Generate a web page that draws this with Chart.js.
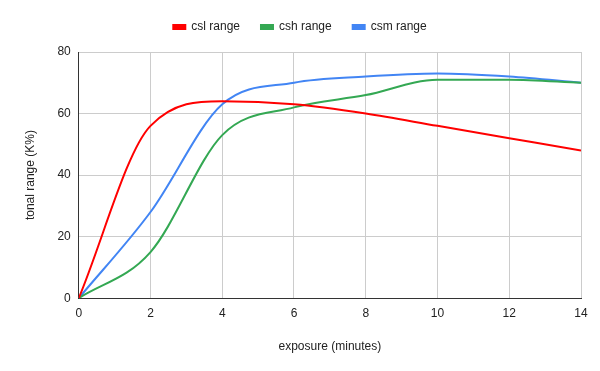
<!DOCTYPE html>
<html>
<head>
<meta charset="utf-8">
<script src="https://cdn.jsdelivr.net/npm/chart.js@4"></script>
<style>
  html, body { margin: 0; padding: 0; background: #fff; }
  #wrap { width: 600px; height: 371px; }
</style>
</head>
<body>
<div id="wrap"><canvas id="tonalChart"></canvas></div>
<script>
const exposure = [0, 2, 4, 6, 8, 10, 12, 14];
const cslRange = [0, 56, 64, 63, 60, 56, 52, 48];
const cshRange = [0, 15, 53, 62, 66, 71, 71, 70];
const csmRange = [0, 28, 63, 70, 72, 73, 72, 70];
const xTicks = [0, 2, 4, 6, 8, 10, 12, 14];
const yTicks = [0, 20, 40, 60, 80];

const toPoints = (ys) => exposure.map((x, i) => ({ x: x, y: ys[i] }));
const font = { family: '"Liberation Sans", Arial, sans-serif', size: 12 };

// extra gap between legend and plot area
const legendSpacer = {
    id: 'legendSpacer',
    beforeInit(chart) {
        const origFit = chart.legend.fit;
        chart.legend.fit = function () {
            origFit.bind(chart.legend)();
            this.height += 9;
        };
    }
};

new Chart(document.getElementById('tonalChart'), {
    type: 'line',
    data: {
        datasets: [
            { label: 'csl range', data: toPoints(cslRange), borderColor: '#ff0000', backgroundColor: '#ff0000' },
            { label: 'csh range', data: toPoints(cshRange), borderColor: '#34a853', backgroundColor: '#34a853' },
            { label: 'csm range', data: toPoints(csmRange), borderColor: '#4285f4', backgroundColor: '#4285f4' }
        ]
    },
    options: {
        responsive: true,
        maintainAspectRatio: false,
        animation: false,
        elements: {
            line: { borderWidth: 2, cubicInterpolationMode: 'monotone', fill: false },
            point: { radius: 0 }
        },
        layout: { padding: { left: 19, right: 19, top: 0, bottom: 10 } },
        plugins: {
            legend: {
                position: 'top',
                labels: { font: font, color: '#222', boxWidth: 12, boxHeight: 4, padding: 21 }
            },
            tooltip: { enabled: false }
        },
        scales: {
            x: {
                type: 'linear',
                min: 0, max: 14,
                afterBuildTicks: (s) => { s.ticks = xTicks.map(v => ({ value: v })); },
                ticks: { font: font, color: '#222', padding: 8 },
                grid: { color: '#cccccc', drawTicks: false },
                border: { color: '#333', width: 1 },
                title: { display: true, text: 'exposure (minutes)', font: font, color: '#222', padding: { top: 11, bottom: 7 } }
            },
            y: {
                min: 0, max: 80,
                afterBuildTicks: (s) => { s.ticks = yTicks.map(v => ({ value: v })); },
                ticks: { font: font, color: '#222', padding: 8 },
                grid: { color: '#cccccc', drawTicks: false },
                border: { color: '#333', width: 1 },
                title: { display: true, text: 'tonal range (K%)', font: font, color: '#222', padding: { top: 4, bottom: 12 } }
            }
        }
    },
    plugins: [legendSpacer]
});
</script>
</body>
</html>
